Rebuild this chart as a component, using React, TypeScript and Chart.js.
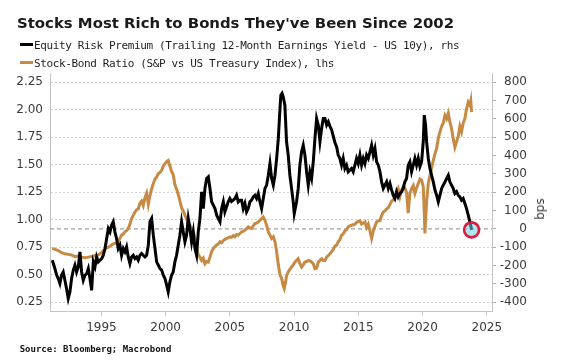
import React, { useEffect, useRef } from "react";
import { Chart, registerables } from "chart.js";

Chart.register(...registerables);

// ---- Data ----
const titleText = "Stocks Most Rich to Bonds They've Been Since 2002";
const legendErp = "Equity Risk Premium (Trailing 12-Month Earnings Yield - US 10y), rhs";
const legendSb = "Stock-Bond Ratio (S&P vs US Treasury Index), lhs";
const sourceText = "Source: Bloomberg; Macrobond";
const rightAxisTitle = "bps";

const xTickYears = [1995, 2000, 2005, 2010, 2015, 2020, 2025];
const leftTickValues = [0.25, 0.5, 0.75, 1.0, 1.25, 1.5, 1.75, 2.0, 2.25];
const rightTickValues = [-400, -300, -200, -100, 0, 100, 200, 300, 400, 500, 600, 700, 800];

// Equity risk premium, bps (right axis)
const erpDates = [
  1991.18, 1991.38, 1991.51, 1991.64, 1991.77, 1991.9, 1992.03, 1992.16, 1992.29, 1992.42,
  1992.55, 1992.68, 1992.81, 1992.94, 1993.07, 1993.2, 1993.33, 1993.46, 1993.59, 1993.72,
  1993.85, 1993.98, 1994.11, 1994.24, 1994.37, 1994.5, 1994.63, 1994.76, 1994.89, 1995.02,
  1995.15, 1995.28, 1995.41, 1995.54, 1995.67, 1995.79, 1995.92, 1996.05, 1996.18, 1996.31,
  1996.44, 1996.57, 1996.7, 1996.83, 1996.96, 1997.09, 1997.22, 1997.35, 1997.48, 1997.61,
  1997.74, 1997.87, 1998.0, 1998.13, 1998.26, 1998.39, 1998.52, 1998.65, 1998.78, 1998.91,
  1999.04, 1999.17, 1999.3, 1999.43, 1999.56, 1999.69, 1999.82, 1999.95, 2000.08, 2000.2,
  2000.33, 2000.46, 2000.59, 2000.72, 2000.85, 2000.98, 2001.11, 2001.24, 2001.37, 2001.5,
  2001.63, 2001.76, 2001.89, 2002.02, 2002.15, 2002.28, 2002.41, 2002.54, 2002.67, 2002.8,
  2002.93, 2003.06, 2003.19, 2003.32, 2003.45, 2003.58, 2003.71, 2003.84, 2003.97, 2004.1,
  2004.23, 2004.36, 2004.49, 2004.61, 2004.74, 2004.87, 2005.0, 2005.13, 2005.26, 2005.39,
  2005.52, 2005.65, 2005.78, 2005.91, 2006.04, 2006.17, 2006.3, 2006.43, 2006.56, 2006.69,
  2006.82, 2006.95, 2007.08, 2007.21, 2007.34, 2007.47, 2007.6, 2007.73, 2007.86, 2007.99,
  2008.12, 2008.25, 2008.38, 2008.51, 2008.64, 2008.77, 2008.9, 2008.97, 2009.06, 2009.15,
  2009.28, 2009.41, 2009.54, 2009.67, 2009.8, 2009.93, 2010.01, 2010.19, 2010.32, 2010.45,
  2010.58, 2010.71, 2010.84, 2010.97, 2011.1, 2011.23, 2011.36, 2011.49, 2011.62, 2011.75,
  2011.88, 2012.01, 2012.14, 2012.27, 2012.4, 2012.53, 2012.66, 2012.79, 2012.92, 2013.05,
  2013.18, 2013.31, 2013.43, 2013.56, 2013.69, 2013.82, 2013.95, 2014.08, 2014.21, 2014.34,
  2014.47, 2014.6, 2014.73, 2014.86, 2014.99, 2015.12, 2015.25, 2015.38, 2015.51, 2015.64,
  2015.77, 2015.9, 2016.03, 2016.16, 2016.29, 2016.42, 2016.55, 2016.68, 2016.81, 2016.94,
  2017.07, 2017.2, 2017.33, 2017.46, 2017.59, 2017.71, 2017.84, 2017.97, 2018.1, 2018.23,
  2018.36, 2018.49, 2018.62, 2018.75, 2018.88, 2019.01, 2019.14, 2019.27, 2019.4, 2019.53,
  2019.66, 2019.79, 2019.92, 2020.05, 2020.13, 2020.23, 2020.31, 2020.44, 2020.57, 2020.7,
  2020.83, 2020.96, 2021.09, 2021.22, 2021.35, 2021.48, 2021.61, 2021.74, 2021.87, 2022.0,
  2022.12, 2022.25, 2022.38, 2022.51, 2022.64, 2022.77, 2022.9, 2023.03, 2023.16, 2023.29,
  2023.42, 2023.55, 2023.68, 2023.81,
];
const erpBps = [
  -171, -216, -250, -271, -298, -253, -235, -280, -326, -380,
  -344, -271, -226, -198, -235, -207, -125, -235, -280, -253,
  -244, -216, -271, -335, -180, -207, -153, -180, -171, -162,
  -144, -107, -52, 2, -16, 20, 39, -16, -52, -107,
  -89, -144, -107, -125, -98, -153, -189, -153, -144, -162,
  -153, -171, -144, -134, -144, -153, -144, -89, 39, 57,
  -34, -107, -180, -198, -216, -225, -253, -271, -307, -344,
  -289, -253, -235, -180, -144, -89, -34, 39, -16, -71,
  -34, 57, 2, -71, -16, -107, -144, -16, 57, 202,
  111, 221, 275, 284, 221, 148, 130, 111, 75, 57,
  39, 111, 148, 93, 121, 148, 166, 150, 157, 166,
  184, 148, 157, 157, 111, 139, 93, 111, 148, 157,
  175, 184, 166, 193, 148, 111, 166, 221, 239, 293,
  357, 275, 239, 293, 385, 494, 658, 731, 740, 722,
  676, 476, 403, 293, 221, 148, 84, 148, 221, 350,
  421, 457, 403, 312, 239, 312, 275, 366, 494, 603,
  567, 476, 549, 603, 603, 567, 585, 560, 540, 505,
  470, 448, 403, 385, 348, 385, 330, 348, 312, 321,
  330, 312, 348, 385, 357, 403, 348, 385, 357, 403,
  385, 421, 457, 403, 439, 366, 348, 312, 257, 221,
  239, 257, 221, 248, 212, 184, 166, 203, 175, 193,
  202, 221, 257, 275, 348, 366, 312, 348, 385, 348,
  385, 340, 366, 476, 621, 567, 476, 385, 330, 293,
  257, 212, 184, 148, 184, 221, 239, 257, 275, 293,
  257, 239, 221, 193, 203, 184, 175, 157, 166, 139,
  111, 75, 39, -5,
];

// Stock-bond ratio (left axis)
const sbDates = [
  1991.18, 1991.4, 1991.64, 1991.9, 1992.16, 1992.42, 1992.68, 1992.94, 1993.2, 1993.46,
  1993.72, 1993.98, 1994.24, 1994.5, 1994.76, 1994.89, 1995.02, 1995.15, 1995.28, 1995.41,
  1995.54, 1995.67, 1995.79, 1995.92, 1996.05, 1996.18, 1996.31, 1996.44, 1996.57, 1996.7,
  1996.83, 1996.96, 1997.09, 1997.22, 1997.35, 1997.48, 1997.61, 1997.74, 1997.87, 1998.0,
  1998.13, 1998.26, 1998.39, 1998.52, 1998.65, 1998.78, 1998.91, 1999.04, 1999.17, 1999.3,
  1999.43, 1999.56, 1999.69, 1999.82, 1999.95, 2000.08, 2000.2, 2000.27, 2000.33, 2000.46,
  2000.59, 2000.72, 2000.85, 2000.98, 2001.11, 2001.24, 2001.37, 2001.5, 2001.63, 2001.76,
  2001.89, 2002.02, 2002.15, 2002.28, 2002.41, 2002.54, 2002.67, 2002.8, 2002.93, 2003.06,
  2003.19, 2003.32, 2003.45, 2003.58, 2003.71, 2003.84, 2003.97, 2004.1, 2004.23, 2004.36,
  2004.49, 2004.61, 2004.74, 2004.87, 2005.0, 2005.13, 2005.26, 2005.39, 2005.52, 2005.65,
  2005.78, 2005.91, 2006.04, 2006.17, 2006.3, 2006.43, 2006.56, 2006.69, 2006.82, 2006.95,
  2007.08, 2007.21, 2007.34, 2007.47, 2007.6, 2007.73, 2007.86, 2007.99, 2008.12, 2008.25,
  2008.38, 2008.51, 2008.64, 2008.77, 2008.9, 2009.03, 2009.15, 2009.23, 2009.34, 2009.41,
  2009.54, 2009.67, 2009.8, 2009.93, 2010.06, 2010.19, 2010.32, 2010.45, 2010.58, 2010.71,
  2010.84, 2010.97, 2011.1, 2011.23, 2011.36, 2011.49, 2011.62, 2011.75, 2011.88, 2012.01,
  2012.14, 2012.27, 2012.4, 2012.53, 2012.66, 2012.79, 2012.92, 2013.05, 2013.18, 2013.31,
  2013.43, 2013.56, 2013.69, 2013.82, 2013.95, 2014.08, 2014.21, 2014.34, 2014.47, 2014.6,
  2014.73, 2014.86, 2014.99, 2015.12, 2015.25, 2015.38, 2015.51, 2015.64, 2015.77, 2015.9,
  2016.03, 2016.16, 2016.29, 2016.42, 2016.55, 2016.68, 2016.81, 2016.94, 2017.07, 2017.2,
  2017.33, 2017.46, 2017.59, 2017.71, 2017.84, 2017.97, 2018.1, 2018.23, 2018.36, 2018.49,
  2018.62, 2018.75, 2018.88, 2019.01, 2019.14, 2019.27, 2019.4, 2019.53, 2019.66, 2019.79,
  2019.92, 2020.05, 2020.13, 2020.18, 2020.23, 2020.31, 2020.44, 2020.57, 2020.7, 2020.83,
  2020.96, 2021.09, 2021.22, 2021.35, 2021.48, 2021.61, 2021.74, 2021.87, 2022.0, 2022.12,
  2022.25, 2022.38, 2022.51, 2022.64, 2022.77, 2022.9, 2023.03, 2023.16, 2023.29, 2023.42,
  2023.55, 2023.68, 2023.75, 2023.81,
];
const sbRatio = [
  0.74, 0.73, 0.72, 0.7, 0.69, 0.685, 0.68, 0.665, 0.67, 0.66,
  0.655, 0.66, 0.665, 0.675, 0.68, 0.69, 0.7, 0.72, 0.73, 0.745,
  0.75, 0.76, 0.77, 0.78, 0.785, 0.79, 0.8, 0.83, 0.86, 0.87,
  0.89, 0.9, 0.92, 0.96, 1.01, 1.04, 1.07, 1.09, 1.1, 1.15,
  1.17, 1.13, 1.2, 1.24, 1.14, 1.22, 1.28, 1.33, 1.37, 1.39,
  1.42, 1.43, 1.45, 1.49, 1.51, 1.53, 1.54, 1.51, 1.49, 1.44,
  1.41, 1.32, 1.28, 1.23, 1.17, 1.11, 1.08, 1.04, 1.01, 0.97,
  0.95, 0.92, 0.89, 0.83, 0.74, 0.68, 0.66, 0.63, 0.65, 0.6,
  0.62, 0.615, 0.66, 0.71, 0.74, 0.755, 0.77, 0.78, 0.8, 0.79,
  0.81, 0.82, 0.83, 0.835, 0.845, 0.84, 0.855, 0.845, 0.865, 0.86,
  0.875, 0.89, 0.895, 0.905, 0.92, 0.935, 0.925, 0.92, 0.945, 0.965,
  0.97, 0.98, 0.995, 1.01, 1.025, 0.995, 0.95, 0.89, 0.86, 0.83,
  0.845, 0.8, 0.71, 0.59, 0.5, 0.465, 0.4, 0.375, 0.435, 0.49,
  0.525, 0.55, 0.57, 0.59, 0.615, 0.63, 0.645, 0.6, 0.57, 0.59,
  0.615, 0.62, 0.63, 0.625, 0.615, 0.6, 0.555, 0.56, 0.615, 0.63,
  0.645, 0.63, 0.63, 0.66, 0.675, 0.69, 0.71, 0.73, 0.76, 0.77,
  0.8, 0.82, 0.86, 0.87, 0.9, 0.91, 0.935, 0.945, 0.95, 0.955,
  0.96, 0.975, 0.985, 0.99, 0.96, 0.97, 0.98, 0.93, 0.96, 0.9,
  0.83, 0.9, 0.94, 0.98, 0.99, 0.99, 1.04, 1.07, 1.08, 1.1,
  1.11, 1.14, 1.17, 1.18, 1.2, 1.24, 1.28, 1.21, 1.27, 1.3,
  1.29, 1.25, 1.06, 1.24, 1.28, 1.31, 1.24, 1.29, 1.33, 1.37,
  1.36, 1.3, 1.06, 0.875, 1.0, 1.16, 1.33, 1.4, 1.47, 1.54,
  1.6, 1.65, 1.74, 1.8, 1.85, 1.88, 1.95, 1.92, 1.97, 1.89,
  1.83, 1.74, 1.66, 1.71, 1.76, 1.85, 1.8, 1.88, 1.92, 2.01,
  2.07, 2.04, 2.08, 1.98,
];

const zeroLineBps = 0;

// Axis ranges
const xMin = 1991.0;
const xMax = 2025.4;
const leftMin = 0.17;
const leftMax = 2.335;
const rightMin = -448;
const rightMax = 851;

const BLACK = "#000000";
const TAN = "#c68a45";
const TICK_COLOR = "#3a3a3a";
const AXIS_COLOR = "#c4c4c4";

export default function App() {
  const canvasRef = useRef<HTMLCanvasElement | null>(null);

  useEffect(() => {
    const canvas = canvasRef.current;
    if (!canvas) return;
    const erpData = erpDates.map((d, i) => ({ x: d, y: erpBps[i] }));
    const sbData = sbDates.map((d, i) => ({ x: d, y: sbRatio[i] }));
    const lastIdx = erpDates.length - 1;
    const tickFont = { family: "'DejaVu Sans', sans-serif", size: 12 };

    const chart = new Chart(canvas, {
      type: "line",
      data: {
        datasets: [
          {
            label: "marker",
            data: [{ x: erpDates[lastIdx], y: erpBps[lastIdx] }],
            yAxisID: "y1",
            showLine: false,
            pointRadius: 7.5,
            pointBorderWidth: 2.6,
            pointBorderColor: "#e3173a",
            pointBackgroundColor: "rgba(110, 205, 230, 0.55)",
            order: 0,
          },
          {
            label: legendErp,
            data: erpData,
            yAxisID: "y1",
            borderColor: BLACK,
            borderWidth: 3,
            pointRadius: 0,
            tension: 0,
            order: 1,
          },
          {
            label: legendSb,
            data: sbData,
            yAxisID: "y",
            borderColor: TAN,
            borderWidth: 3,
            pointRadius: 0,
            tension: 0,
            order: 2,
          },
          {
            label: "zero",
            data: [
              { x: xMin, y: zeroLineBps },
              { x: xMax, y: zeroLineBps },
            ],
            yAxisID: "y1",
            borderColor: "#8a8a8a",
            borderWidth: 1,
            borderDash: [4, 3],
            pointRadius: 0,
            order: 3,
          },
        ],
      },
      options: {
        animation: false,
        responsive: false,
        maintainAspectRatio: false,
        devicePixelRatio: 1,
        layout: { padding: { top: 73, right: 34, bottom: 0, left: 0 } },
        plugins: {
          legend: { display: false },
          tooltip: { enabled: false },
          title: { display: false },
        },
        scales: {
          x: {
            type: "linear",
            position: "bottom",
            min: xMin,
            max: xMax,
            afterFit: (s: any) => {
              s.height = 50;
            },
            afterBuildTicks: (s: any) => {
              s.ticks = xTickYears.map((v) => ({ value: v }));
            },
            grid: {
              drawOnChartArea: false,
              drawTicks: true,
              tickLength: 5,
              color: AXIS_COLOR,
            },
            border: { display: true, color: AXIS_COLOR },
            ticks: {
              autoSkip: false,
              maxRotation: 0,
              padding: 5,
              font: tickFont,
              color: TICK_COLOR,
              callback: (v: any) => String(v),
            },
          },
          y: {
            type: "linear",
            position: "left",
            min: leftMin,
            max: leftMax,
            afterFit: (s: any) => {
              s.width = 50;
            },
            afterBuildTicks: (s: any) => {
              s.ticks = leftTickValues.map((v) => ({ value: v }));
            },
            grid: { drawTicks: false, color: "#d2d2d2", lineWidth: 1 },
            border: { display: true, color: AXIS_COLOR, dash: [2, 2] },
            ticks: {
              padding: 7,
              font: tickFont,
              color: TICK_COLOR,
              callback: (v: any) => Number(v).toFixed(2),
            },
          },
          y1: {
            type: "linear",
            position: "right",
            min: rightMin,
            max: rightMax,
            afterFit: (s: any) => {
              s.width = 35;
            },
            afterBuildTicks: (s: any) => {
              s.ticks = rightTickValues.map((v) => ({ value: v }));
            },
            grid: {
              drawOnChartArea: false,
              drawTicks: true,
              tickLength: 4,
              color: "#b0b0b0",
            },
            border: { display: true, color: AXIS_COLOR },
            ticks: {
              crossAlign: "far",
              font: tickFont,
              color: TICK_COLOR,
              callback: (v: any) => String(v),
            },
          },
        },
      },
    } as any);

    return () => {
      chart.destroy();
    };
  }, []);

  const mono = "'DejaVu Sans Mono', 'Liberation Mono', monospace";

  return (
    <div
      style={{
        position: "fixed",
        left: 0,
        top: 0,
        width: 561,
        height: 361,
        background: "#ffffff",
        overflow: "hidden",
      }}
    >
      <canvas
        ref={canvasRef}
        width={561}
        height={361}
        style={{ position: "absolute", left: 0, top: 0, width: 561, height: 361 }}
      />
      <div
        style={{
          position: "absolute",
          left: 17,
          top: 15.2,
          fontFamily: "'DejaVu Sans', sans-serif",
          fontWeight: "bold",
          fontSize: 14.9,
          lineHeight: "16px",
          color: "#1a1a1a",
          whiteSpace: "nowrap",
        }}
      >
        {titleText}
      </div>
      <div
        style={{
          position: "absolute",
          left: 20,
          top: 43.3,
          width: 12.5,
          height: 2.8,
          background: BLACK,
        }}
      />
      <div
        style={{
          position: "absolute",
          left: 34,
          top: 38.7,
          fontFamily: mono,
          fontSize: 11,
          letterSpacing: "-0.37px",
          lineHeight: "13px",
          color: "#1e1e1e",
          whiteSpace: "nowrap",
        }}
      >
        {legendErp}
      </div>
      <div
        style={{
          position: "absolute",
          left: 20,
          top: 61.2,
          width: 12.5,
          height: 2.8,
          background: TAN,
        }}
      />
      <div
        style={{
          position: "absolute",
          left: 34,
          top: 56.6,
          fontFamily: mono,
          fontSize: 11,
          letterSpacing: "-0.37px",
          lineHeight: "13px",
          color: "#1e1e1e",
          whiteSpace: "nowrap",
        }}
      >
        {legendSb}
      </div>
      <div
        style={{
          position: "absolute",
          left: 540.3,
          top: 208.5,
          transform: "translate(-50%, -50%) rotate(-90deg)",
          fontFamily: "'DejaVu Sans', sans-serif",
          fontSize: 12,
          lineHeight: "14px",
          color: TICK_COLOR,
          whiteSpace: "nowrap",
        }}
      >
        {rightAxisTitle}
      </div>
      <div
        style={{
          position: "absolute",
          left: 19.7,
          top: 344.4,
          fontFamily: mono,
          fontWeight: "bold",
          fontSize: 9,
          lineHeight: "11px",
          color: "#111111",
          whiteSpace: "nowrap",
        }}
      >
        {sourceText}
      </div>
    </div>
  );
}
